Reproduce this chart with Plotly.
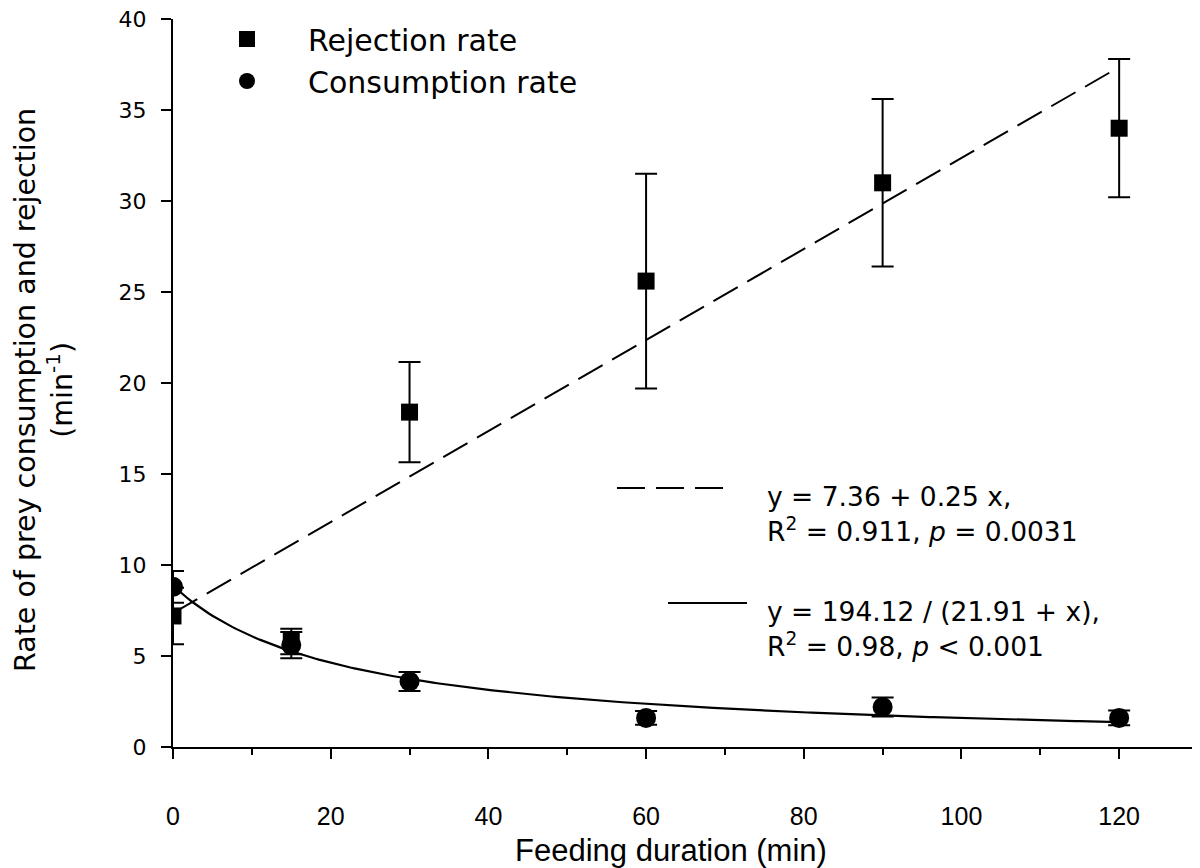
import numpy as np
import plotly.graph_objects as go

# ---- data ----
durations = [0, 15, 30, 60, 90, 120]
rejection_rate = [7.2, 5.8, 18.4, 25.6, 31.0, 34.0]
rejection_err = [1.55, 0.7, 2.75, 5.9, 4.6, 3.8]
consumption_rate = [8.8, 5.6, 3.6, 1.6, 2.2, 1.6]
consumption_err = [0.87, 0.72, 0.52, 0.38, 0.52, 0.4]

# fitted equations printed on the chart
lin_intercept, lin_slope = 7.36, 0.25
hyp_num, hyp_shift = 194.12, 21.91
fit_x = np.linspace(0, 120, 241)
lin_y = lin_intercept + lin_slope * fit_x
hyp_y = hyp_num / (hyp_shift + fit_x)

W, H = 1200, 868
OFF = 8  # page body margin
ML, MR, MT, MB = 165, 10, 11, 129
PW, PH = W - ML - MR, H - MT - MB


def px(x):
    """page pixel x -> paper"""
    return (x - OFF - ML) / PW


def py(y):
    """page pixel y -> paper"""
    return (H - MB - (y - OFF)) / PH


SANS = "DejaVu Sans"
ARIAL = "Liberation Sans"

fig = go.Figure()

fig.add_trace(go.Scatter(
    x=fit_x, y=lin_y, mode="lines", showlegend=False, hoverinfo="skip",
    line=dict(color="black", width=2, dash="28px,11px")))
fig.add_trace(go.Scatter(
    x=fit_x, y=hyp_y, mode="lines", showlegend=False, hoverinfo="skip",
    line=dict(color="black", width=2.2)))

fig.add_trace(go.Scatter(
    x=durations, y=rejection_rate, mode="markers", name="Rejection rate",
    legendgroup="a",
    marker=dict(symbol="square", size=17, color="black"),
    error_y=dict(type="data", array=rejection_err, visible=True,
                 thickness=2, width=11, color="black")))
fig.add_trace(go.Scatter(
    x=durations, y=consumption_rate, mode="markers", name="Consumption rate",
    legendgroup="b",
    marker=dict(symbol="circle", size=20, color="black"),
    error_y=dict(type="data", array=consumption_err, visible=True,
                 thickness=2, width=11, color="black")))

shapes = [
    dict(type="line", xref="paper", yref="paper", x0=px(617), x1=px(725),
         y0=py(488), y1=py(488), line=dict(color="black", width=2, dash="28px,11px")),
    dict(type="line", xref="paper", yref="paper", x0=px(668), x1=px(747),
         y0=py(603), y1=py(603), line=dict(color="black", width=2)),
]

eq_font = dict(family=SANS, size=26.5, color="black")
annotations = [
    dict(text="y = 7.36 + 0.25 x,", x=px(765), y=py(496)),
    dict(text="R<sup>2</sup> = 0.911, <i>p</i> = 0.0031", x=px(765), y=py(530)),
    dict(text="y = 194.12 / (21.91 + x),", x=px(765), y=py(611)),
    dict(text="R<sup>2</sup> = 0.98, <i>p</i> &lt; 0.001", x=px(765), y=py(645)),
]
for a in annotations:
    a.update(xref="paper", yref="paper", xanchor="left", yanchor="middle",
             showarrow=False, font=eq_font)

annotations.append(dict(
    text="Rate of prey consumption and rejection<br>(min<sup>-1</sup>)",
    xref="paper", yref="paper", x=px(44), y=py(390), xanchor="center",
    yanchor="middle", textangle=-90, showarrow=False,
    font=dict(family=SANS, size=28.5, color="black")))
annotations.append(dict(
    text="Feeding duration (min)", xref="paper", yref="paper",
    x=px(671), y=py(850), xanchor="center", yanchor="middle",
    showarrow=False, font=dict(family=ARIAL, size=31, color="black")))

fig.update_layout(
    width=W, height=H,
    margin=dict(l=ML, r=MR, t=MT, b=MB, autoexpand=False),
    paper_bgcolor="white", plot_bgcolor="white",
    showlegend=True,
    legend=dict(x=px(186), y=py(13), xanchor="left", yanchor="top",
                font=dict(family=SANS, size=30, color="black"),
                itemwidth=112, tracegroupgap=18, bgcolor="rgba(0,0,0,0)",
                traceorder="normal"),
    shapes=shapes, annotations=annotations,
)

fig.update_xaxes(
    range=[0, 130], dtick=20, tick0=0, showline=True, linewidth=2,
    linecolor="black", ticks="outside", ticklen=10, tickwidth=2,
    tickcolor="black", showgrid=False, zeroline=False,
    tickfont=dict(family=ARIAL, size=25, color="black"),
    ticklabelstandoff=36,
    minor=dict(dtick=10, tick0=0, ticks="outside", ticklen=6, tickwidth=1.5,
               tickcolor="black", showgrid=False))
fig.update_yaxes(
    range=[0, 40.001], tickvals=[0, 5, 10, 15, 20, 25, 30, 35, 40],
    showline=True, linewidth=2,
    linecolor="black", ticks="outside", ticklen=10, tickwidth=2,
    tickcolor="black", showgrid=False, zeroline=False,
    tickfont=dict(family=SANS, size=22, color="black"),
    ticklabelstandoff=10, ticklabeloverflow="allow")

fig.write_html("out.html")
